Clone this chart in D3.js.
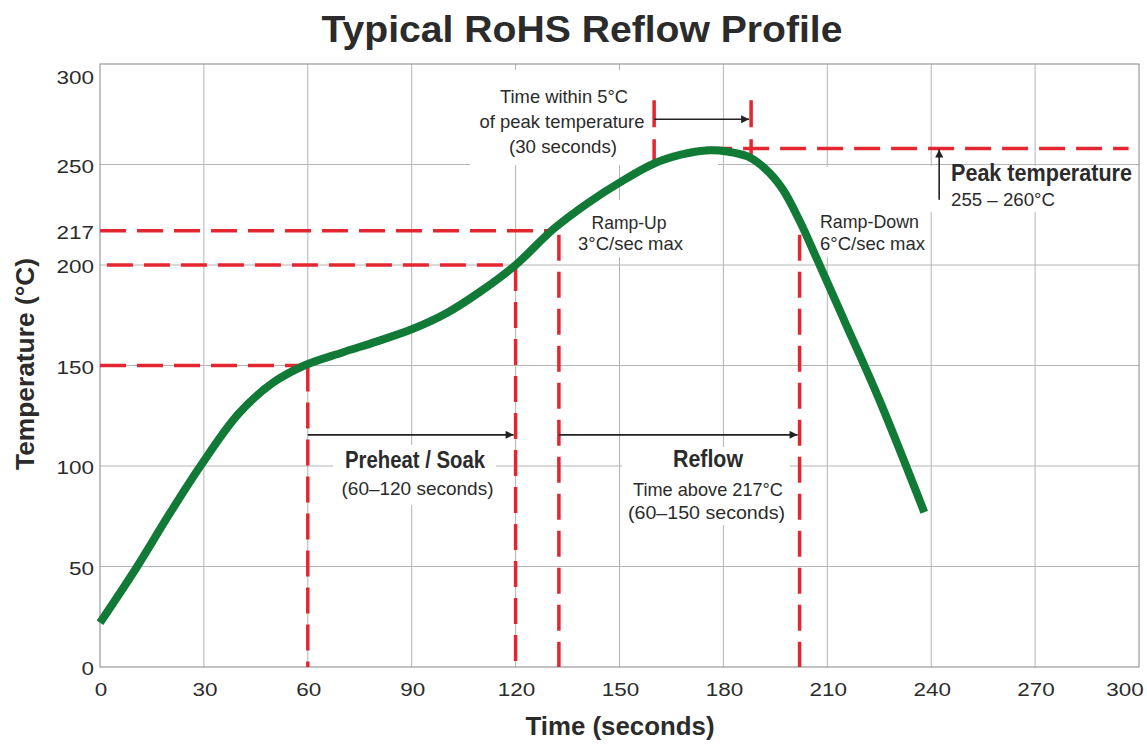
<!DOCTYPE html>
<html>
<head>
<meta charset="utf-8">
<script src="https://cdn.jsdelivr.net/npm/d3@7"></script>
<style>
  body { margin: 0; background: #fff; }
  svg { display: block; }
  text { font-family: "Liberation Sans Narrow", "Arial Narrow", "Liberation Sans", Arial, sans-serif; fill: #2b2b2b; }
</style>
</head>
<body>
<div id="chart"></div>
<script>
// reflow profile (seconds, degrees C)
var profileTime = [0, 10, 20, 29, 40, 50, 59, 70, 80, 90, 100, 110, 120, 131, 141, 150, 160, 168, 175, 181, 187, 192, 197, 202, 207, 215, 225, 238];
var profileTemp = [22, 48, 76, 100, 126, 141.5, 150, 156.5, 162, 168, 176, 187, 200, 218, 231, 241, 250.5, 255, 257, 256.5, 254, 248, 238, 222, 203, 172, 133, 77];

var xTicks = [0, 30, 60, 90, 120, 150, 180, 210, 240, 270, 300];
var yTicks = [0, 50, 100, 150, 200, 217, 250, 300];

// dashed guide lines
var levelTemps = [150, 200, 217];
var levelFrom = [0, 2, 0];
var levelTo = [60, 120, 131];
var markerTimes = [60, 120, 132.5, 202];
var markerTops = [150, 200, 215, 215];
var peakWindow = [160, 188];   // 30 s within 5 C of peak
var peakLevel = 258;

var W = 1147, H = 744;
var svg = d3.select("#chart").append("svg").attr("width", W).attr("height", H);

var x = d3.scaleLinear().domain([0, 300]).range([100, 1139]);
var y = d3.scaleLinear().domain([0, 300]).range([667, 64]);

svg.append("defs").append("marker")
   .attr("id", "arrow")
   .attr("viewBox", "0 0 10 10")
   .attr("refX", 10).attr("refY", 5)
   .attr("markerWidth", 10).attr("markerHeight", 8)
   .attr("markerUnits", "userSpaceOnUse")
   .attr("orient", "auto")
   .append("path").attr("d", "M0,0 L10,5 L0,10 Z").attr("fill", "#222");

function label(px, py, str, size, weight, anchor, len) {
    var t = svg.append("text")
       .attr("x", px).attr("y", py)
       .attr("font-size", size)
       .attr("font-weight", weight)
       .attr("text-anchor", anchor)
       .text(str);
    if (len) t.attr("textLength", len).attr("lengthAdjust", "spacingAndGlyphs");
    return t;
}

// grid
var grid = svg.append("g").attr("stroke", "#b4b4b4").attr("stroke-width", 1);
grid.selectAll(".vg").data(xTicks.slice(1, -1)).enter().append("line")
    .attr("x1", d => x(d)).attr("x2", d => x(d))
    .attr("y1", y(300)).attr("y2", y(0));
grid.selectAll(".hg").data(yTicks.filter(d => d % 50 === 0 && d > 0 && d < 300)).enter().append("line")
    .attr("x1", x(0)).attr("x2", x(300))
    .attr("y1", d => y(d)).attr("y2", d => y(d));
svg.append("rect")
   .attr("x", x(0)).attr("y", y(300))
   .attr("width", x(300) - x(0)).attr("height", y(0) - y(300))
   .attr("fill", "none").attr("stroke", "#9a9a9a").attr("stroke-width", 1.2);

// white boxes behind the annotation text (they break the grid as in the original)
var masks = [
    [470, 70, 248, 95],    // time within 5C
    [575, 200, 115, 57],   // ramp-up
    [812, 167, 116, 90],   // ramp-down
    [925, 166, 212, 46],   // peak temperature
    [333, 445, 163, 60],   // preheat / soak
    [622, 447, 168, 78]    // reflow
];
svg.selectAll(".mask").data(masks).enter().append("rect")
   .attr("x", d => d[0]).attr("y", d => d[1])
   .attr("width", d => d[2]).attr("height", d => d[3])
   .attr("fill", "#fff");

// tick labels
svg.selectAll(".yl").data(yTicks).enter().append("text")
   .attr("x", 94)
   .attr("y", d => Math.max(y(d) + 8, 84))
   .attr("text-anchor", "end")
   .attr("font-size", 19)
   .attr("fill", "#333")
   .attr("textLength", d => String(d).length * 12.5)
   .attr("lengthAdjust", "spacingAndGlyphs")
   .text(d => d);
svg.selectAll(".xl").data(xTicks).enter().append("text")
   .attr("x", d => d === 300 ? x(d) - 14 : x(d) + 1)
   .attr("y", 696)
   .attr("text-anchor", "middle")
   .attr("font-size", 19)
   .attr("fill", "#333")
   .attr("textLength", d => String(d).length * 12.5)
   .attr("lengthAdjust", "spacingAndGlyphs")
   .text(d => d);

// dashed red guides
var red = svg.append("g")
    .attr("stroke", "#e3262f").attr("stroke-width", 3.5)
    .attr("stroke-dasharray", "26 11").attr("fill", "none");
levelTemps.forEach(function(v, i) {
    red.append("line")
       .attr("x1", x(levelFrom[i])).attr("x2", x(levelTo[i]))
       .attr("y1", y(v)).attr("y2", y(v));
});
markerTimes.forEach(function(t, i) {
    red.append("line")
       .attr("x1", x(t)).attr("x2", x(t))
       .attr("y1", y(markerTops[i])).attr("y2", y(0));
});
peakWindow.forEach(function(t) {
    red.append("line")
       .attr("x1", x(t)).attr("x2", x(t))
       .attr("y1", y(282)).attr("y2", y(252))
       .attr("stroke-dasharray", "27 12");
});
red.append("line")
   .attr("x1", x(175)).attr("x2", x(297))
   .attr("y1", y(peakLevel)).attr("y2", y(peakLevel));

// the profile curve
var pts = profileTime.map((t, i) => [t, profileTemp[i]]);
svg.append("path")
   .datum(pts)
   .attr("fill", "none")
   .attr("stroke", "#107a36")
   .attr("stroke-width", 8)
   .attr("d", d3.line().x(d => x(d[0])).y(d => y(d[1])).curve(d3.curveCatmullRom.alpha(0.5)));

// arrows
var arr = svg.append("g").attr("stroke", "#222").attr("stroke-width", 1.6);
arr.append("line").attr("x1", x(60)).attr("x2", x(120) - 2).attr("y1", y(115.5)).attr("y2", y(115.5)).attr("marker-end", "url(#arrow)");
arr.append("line").attr("x1", x(132.5)).attr("x2", x(202) - 2).attr("y1", y(115.5)).attr("y2", y(115.5)).attr("marker-end", "url(#arrow)");
arr.append("line").attr("x1", x(peakWindow[0])).attr("x2", x(peakWindow[1]) - 2).attr("y1", y(272.5)).attr("y2", y(272.5)).attr("marker-end", "url(#arrow)");
arr.append("line").attr("x1", x(242.3)).attr("x2", x(242.3)).attr("y1", y(232.5)).attr("y2", y(peakLevel) + 1).attr("marker-end", "url(#arrow)");

// annotation text
label(564, 103, "Time within 5°C", 19, "normal", "middle", 128);
label(562, 128, "of peak temperature", 19, "normal", "middle", 165);
label(563, 153, "(30 seconds)", 19, "normal", "middle", 108);
label(629, 229, "Ramp-Up", 19, "normal", "middle", 75);
label(630.5, 250, "3°C/sec max", 19, "normal", "middle", 105);
label(820, 228, "Ramp-Down", 19, "normal", "start", 99);
label(820, 250, "6°C/sec max", 19, "normal", "start", 105);
label(951, 181, "Peak temperature", 23, "bold", "start", 181);
label(951, 206, "255 – 260°C", 19, "normal", "start", 104);
label(415, 468, "Preheat / Soak", 23, "bold", "middle", 140);
label(417.5, 495, "(60–120 seconds)", 19, "normal", "middle", 152);
label(708, 467, "Reflow", 23, "bold", "middle", 70);
label(708, 496, "Time above 217°C", 19, "normal", "middle", 150);
label(706.5, 519, "(60–150 seconds)", 19, "normal", "middle", 157);

// titles
label(582, 42, "Typical RoHS Reflow Profile", 37, "bold", "middle", 521).attr("fill", "#1e1e1e");
label(620, 735, "Time (seconds)", 25, "bold", "middle", 189).attr("fill", "#1e1e1e");
label(0, 0, "Temperature (°C)", 25, "bold", "middle", 212)
   .attr("transform", "translate(34,364) rotate(-90)").attr("fill", "#1e1e1e");
</script>
</body>
</html>
